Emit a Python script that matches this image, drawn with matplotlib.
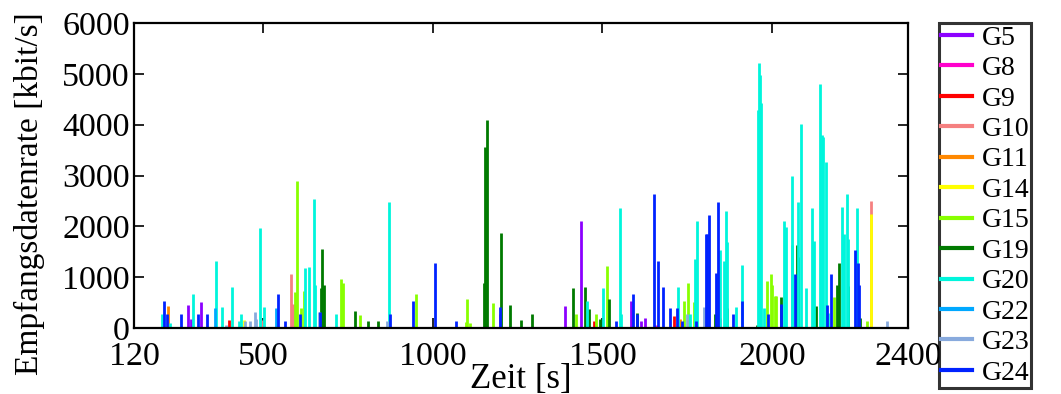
import matplotlib
matplotlib.use('Agg')
import matplotlib.pyplot as plt
from matplotlib.lines import Line2D

plt.rcParams['font.family'] = ['Liberation Serif', 'DejaVu Serif']

# spike times [s] and heights [kbit/s] per group
g5_t = [279, 287, 318, 1389, 1436, 1585, 1614, 1624]
g5_v = [460, 185, 520, 440, 2100, 530, 145, 190]
g8_t = [1198, 1657, 1846]
g8_v = [270, 60, 200]
g9_t = [400, 1476, 1712]
g9_v = [155, 145, 245]
g10_t = [498, 583, 587, 2292]
g10_v = [160, 1060, 470, 2500]
g11_t = [221, 1727]
g11_v = [440, 170]
g14_t = [445, 2292]
g14_v = [155, 2235]
g15_t = [593, 600, 613, 620, 730, 735, 786, 952, 1098, 1101, 1110, 1177, 1422, 1481,
         1513, 1740, 1751, 1771, 1984, 1995, 2000, 2008, 2012, 2182, 2279]
g15_v = [700, 2890, 390, 730, 970, 880, 250, 660, 120, 565, 100, 500, 270, 270,
         1220, 540, 880, 520, 930, 1055, 850, 630, 620, 615, 140]
g19_t = [671, 675, 679, 771, 810, 840, 1150, 1154, 1160, 1200, 1227, 1261, 1291, 1414,
         1448, 1459, 1493, 1518, 1602, 1830, 1866, 1955, 1962, 2025, 2072, 2075, 2130,
         2191, 2197, 2224, 2260]
g19_v = [780, 1550, 845, 325, 145, 145, 880, 3555, 4090, 1860, 460, 155, 270, 795,
         815, 380, 170, 570, 290, 270, 400, 60, 795, 615, 1630, 1400, 440,
         845, 1270, 820, 200]
g20_t = [201, 225, 295, 361, 378, 410, 430, 435, 490, 503, 625, 635, 651, 653, 714, 872,
         1454, 1501, 1553, 1556, 1722, 1757, 1773, 1777, 1845, 1859, 1864, 1866, 1892,
         1911, 1957, 1961, 1965, 1968, 1977, 2034, 2042, 2057, 2059, 2077, 2085, 2099,
         2116, 2122, 2141, 2147, 2150, 2158, 2165, 2205, 2211, 2220, 2222, 2249]
g20_v = [275, 100, 660, 1325, 405, 800, 130, 270, 1970, 405, 1175, 1205, 2545, 850, 270, 2485,
         530, 795, 2370, 270, 800, 275, 1350, 2105, 1535, 1325, 2310, 1700, 405,
         1240, 4290, 5220, 4980, 4420, 400, 2105, 1990, 2990, 1640, 2485, 4005, 795,
         2370, 1710, 4810, 3795, 3750, 3260, 300, 2375, 1850, 2635, 1750, 2370]
g22_t = [359, 539]
g22_v = [385, 390]
g23_t = [392, 446, 462, 475, 480, 665, 864, 1748, 1798, 2339]
g23_v = [60, 130, 130, 320, 170, 310, 145, 275, 405, 140]
g24_t = [207, 218, 258, 309, 334, 544, 564, 609, 668, 875, 941, 1008, 1069, 1199, 1539,
         1590, 1601, 1652, 1665, 1677, 1698, 1720, 1734, 1775, 1804, 1808, 1814, 1835,
         1839, 1884, 1911, 1989, 2026, 2068, 2162, 2172, 2245, 2252, 2255]
g24_v = [537, 275, 275, 270, 275, 660, 140, 270, 310, 270, 530, 1285, 145, 405, 145,
         660, 270, 2630, 1325, 800, 400, 400, 140, 140, 1845, 1845, 2225, 1090,
         2485, 270, 540, 270, 480, 1055, 460, 1055, 1535, 1270, 845]

labels = ['G5', 'G8', 'G9', 'G10', 'G11', 'G14', 'G15', 'G19', 'G20', 'G22', 'G23', 'G24']
times = [g5_t, g8_t, g9_t, g10_t, g11_t, g14_t, g15_t, g19_t, g20_t, g22_t, g23_t, g24_t]
values = [g5_v, g8_v, g9_v, g10_v, g11_v, g14_v, g15_v, g19_v, g20_v, g22_v, g23_v, g24_v]
colors = ['#8c00ff', '#ff00cc', '#ff0000', '#f58080', '#ff8800', '#ffff00',
          '#88ff00', '#007a00', '#00f5dc', '#00a8ff', '#88aadd', '#0022ff']

fig = plt.figure(figsize=(10.61, 3.94), dpi=100)
ax = fig.add_axes([0.1263, 0.1675, 0.7295, 0.7741])

all_t = [t for ts in times for t in ts]
ax.hlines(0, min(all_t), max(all_t), color='#c060b0', lw=1.0)
for t, v, c in zip(times, values, colors):
    ax.vlines(t, 0, v, color=c, lw=2.0)

ax.set_xlim(120, 2400)
ax.set_ylim(0, 6000)
ax.set_xticks([120, 500, 1000, 1500, 2000, 2400])
ax.set_yticks(range(0, 6001, 1000))
ax.tick_params(direction='in', top=True, right=True, length=7, width=1.2, labelsize=24.5)
ax.tick_params(axis='x', pad=10)
ax.tick_params(axis='y', pad=3)
for s in ax.spines.values():
    s.set_linewidth(1.6)
ax.set_xlabel('Zeit [s]', fontsize=25, labelpad=-7)
ax.set_ylabel('Empfangsdatenrate [kbit/s]', fontsize=24)
ax.yaxis.set_label_coords(-0.115, 0.44)

handles = [Line2D([], [], color=c, lw=3) for c in colors]
leg = fig.legend(handles, labels, loc='upper left', bbox_to_anchor=(939 / 1061, 1 - 23 / 394),
                 fontsize=20, handlelength=1.1, handletextpad=0.35, labelspacing=0.18,
                 borderpad=0.08, borderaxespad=0, frameon=True, fancybox=False)
leg.get_frame().set_edgecolor('black')
leg.get_frame().set_linewidth(2.2)

fig.savefig('out.png', dpi=100)
